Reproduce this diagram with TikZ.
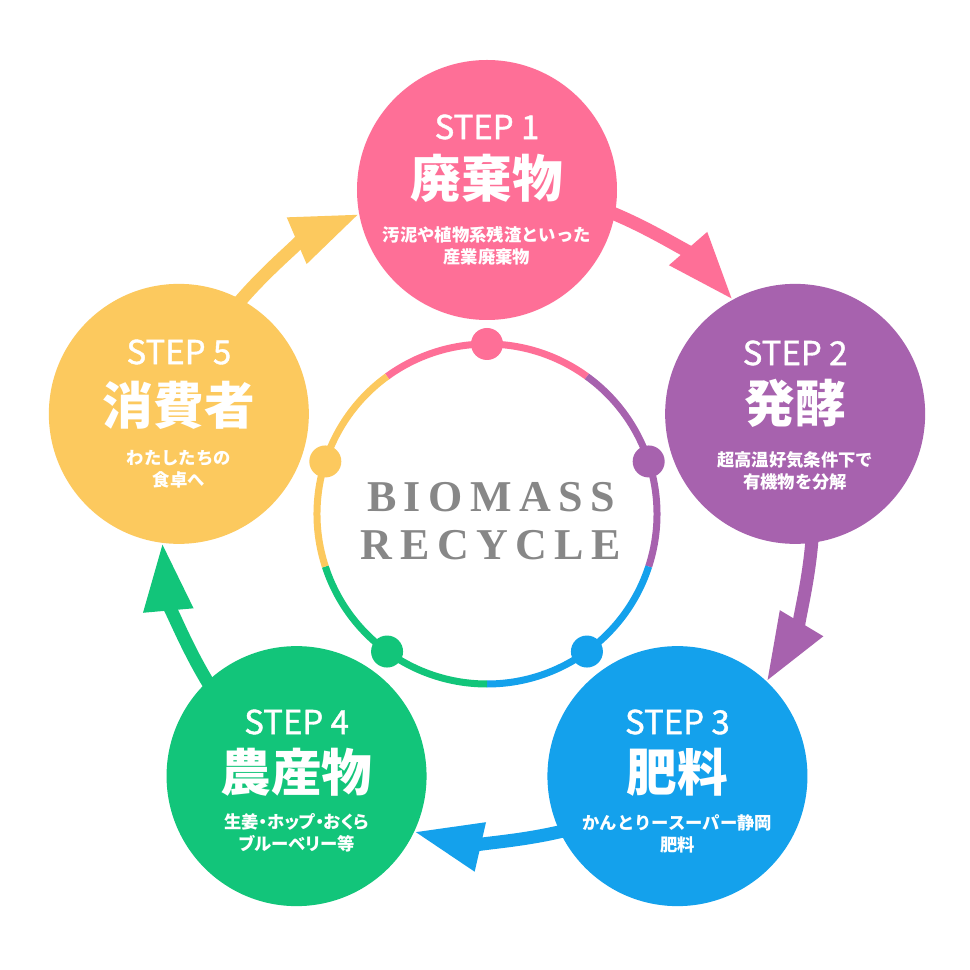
\documentclass[tikz,border=0pt]{standalone}
\usepackage{fontspec}
\usetikzlibrary{arrows.meta}
\newfontfamily\jpfont{Noto Sans CJK JP}
\newfontfamily\jpstep[FakeBold=1.2]{Noto Sans CJK JP}
\newfontfamily\titleserif{Liberation Serif}
\definecolor{cpink}{HTML}{FE6F97}
\definecolor{cpurple}{HTML}{A762AE}
\definecolor{cblue}{HTML}{14A1EC}
\definecolor{cgreen}{HTML}{12C57A}
\definecolor{cyellow}{HTML}{FCC95E}
\definecolor{ctitle}{HTML}{878787}
\begin{document}
\begin{tikzpicture}[x=0.75pt,y=0.75pt,
  stepcircle/.style={circle, minimum size=195pt, inner sep=0pt, fill=#1},
  steplabel/.style={text=white, inner sep=0pt, font=\jpstep\fontsize{24.75}{28}\selectfont},
  bigtitle/.style={text=white, inner sep=0pt, font=\jpfont\bfseries\fontsize{38}{44}\selectfont},
  subtitle/.style={text=white, inner sep=0pt, align=center, font=\jpfont\bfseries\fontsize{13}{16.5}\selectfont},
  ringseg/.style={draw=#1, line width=5.25pt},
  ringdot/.style={circle, fill=#1, minimum size=24pt, inner sep=0pt},
  flow/.style={draw=#1, line width=9.75pt, -{Triangle[length=51pt,width=35pt]}, bend left=13.97, looseness=0.864},
  bigword/.style={text=ctitle, inner sep=0pt, font=\titleserif\bfseries\fontsize{33}{36}\selectfont\addfontfeatures{LetterSpace=17}},
]
\useasboundingbox[fill=white] (-487,-456) rectangle (483,514);
\coordinate (O) at (0,0);

% inner ring
\draw[ringseg=cpink]   (O) ++(54:170)   arc[start angle=54,  end angle=126, radius=127.5pt];
\draw[ringseg=cpurple] (O) ++(-18:170)  arc[start angle=-18, end angle=54,  radius=127.5pt];
\draw[ringseg=cblue]   (O) ++(-90:170)  arc[start angle=-90, end angle=-18, radius=127.5pt];
\draw[ringseg=cgreen]  (O) ++(-162:170) arc[start angle=-162,end angle=-90, radius=127.5pt];
\draw[ringseg=cyellow] (O) ++(126:170)  arc[start angle=126, end angle=198, radius=127.5pt];
\node[ringdot=cpink]   (d1) at (90:170) {};
\node[ringdot=cpurple] (d2) at (18:170) {};
\node[ringdot=cblue]   (d3) at (-54:170) {};
\node[ringdot=cgreen]  (d4) at (-126:170) {};
\node[ringdot=cyellow] (d5) at (162:170) {};

% arrow end points
\coordinate (a1s) at (69:326);   \coordinate (a1e) at (41.07:326);
\coordinate (a2s) at (-3:326);   \coordinate (a2e) at (-30.93:326);
\coordinate (a3s) at (-75:326);  \coordinate (a3e) at (-102.93:326);
\coordinate (a4s) at (-147:326); \coordinate (a4e) at (-174.93:326);
\coordinate (a5s) at (141:326);  \coordinate (a5e) at (113.07:326);
\draw[flow=cpink]   (a1s) to (a1e);
\draw[flow=cpurple] (a2s) to (a2e);
\draw[flow=cblue]   (a3s) to (a3e);
\draw[flow=cgreen]  (a4s) to (a4e);
\draw[flow=cyellow] (a5s) to (a5e);

% step circles
\node[stepcircle=cpink]   (s1) at (90:324) {};
\node[stepcircle=cpurple] (s2) at (18:324) {};
\node[stepcircle=cblue]   (s3) at (-54:324) {};
\node[stepcircle=cgreen]  (s4) at (-126:324) {};
\node[stepcircle=cyellow] (s5) at (162:324) {};

% texts
\node[steplabel] (t1) at (0,387) {STEP 1};
\node[bigtitle]  (b1) at (0,336) {廃棄物};
\node[subtitle]  (u1) at (0,268) {汚泥や植物系残渣といった\\産業廃棄物};

\node[steplabel] (t2) at (308.1,161) {STEP 2};
\node[bigtitle]  (b2) at (308.1,111) {発酵};
\node[subtitle]  (u2) at (308.1,43) {超高温好気条件下で\\有機物を分解};

\node[steplabel] (t3) at (190.4,-208) {STEP 3};
\node[bigtitle]  (b3) at (190.4,-258) {肥料};
\node[subtitle]  (u3) at (190.4,-320) {かんとりースーパー静岡\\肥料};

\node[steplabel] (t4) at (-190.4,-208) {STEP 4};
\node[bigtitle]  (b4) at (-190.4,-258) {農産物};
\node[subtitle, font=\jpfont\bfseries\fontsize{13}{16.5}\selectfont\addfontfeatures{RawFeature=+palt}]  (u4) at (-190.4,-319) {生姜・ホップ・おくら\\ブルーベリー等};

\node[steplabel] (t5) at (-308.1,162) {STEP 5};
\node[bigtitle]  (b5) at (-308.1,109) {消費者};
\node[subtitle]  (u5) at (-308.1,45) {わたしたちの\\食卓へ};

\node[bigword] (w1) at (4,17) {BIOMASS};
\node[bigword] (w2) at (4,-31) {RECYCLE};
\end{tikzpicture}
\end{document}
